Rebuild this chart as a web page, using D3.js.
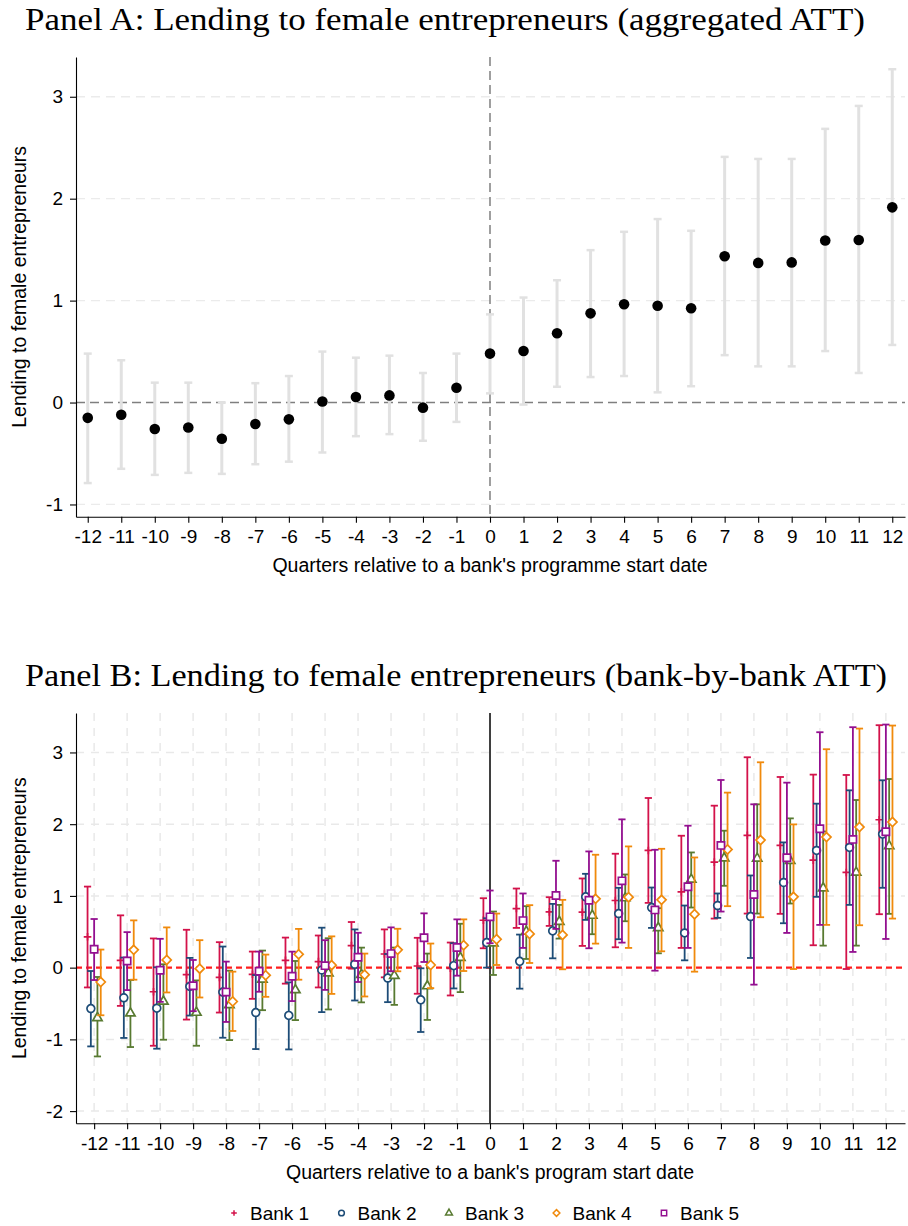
<!DOCTYPE html>
<html>
<head>
<meta charset="utf-8">
<script src="https://cdn.jsdelivr.net/npm/d3@7"></script>
<style>
body { margin: 0; background: #fff; }
</style>
</head>
<body>
<svg id="chart" width="908" height="1226"></svg>
<script>
// quarters relative to programme start
var quarters = [-12, -11, -10, -9, -8, -7, -6, -5, -4, -3, -2, -1, 0, 1, 2, 3, 4, 5, 6, 7, 8, 9, 10, 11, 12];

// Panel A: aggregated ATT
var attEst = [-0.15, -0.12, -0.26, -0.245, -0.355, -0.21, -0.165, 0.01, 0.055, 0.07, -0.05, 0.145, 0.48, 0.505, 0.68, 0.875, 0.965, 0.95, 0.925, 1.435, 1.37, 1.375, 1.59, 1.595, 1.915];
var attLo = [-0.79, -0.65, -0.71, -0.69, -0.70, -0.605, -0.58, -0.49, -0.33, -0.31, -0.375, -0.19, 0.09, -0.02, 0.155, 0.25, 0.26, 0.10, 0.16, 0.465, 0.355, 0.355, 0.505, 0.29, 0.565];
var attHi = [0.48, 0.415, 0.195, 0.195, 0.0, 0.19, 0.26, 0.50, 0.44, 0.46, 0.29, 0.48, 0.865, 1.03, 1.20, 1.495, 1.675, 1.80, 1.685, 2.41, 2.39, 2.39, 2.685, 2.91, 3.27];

// Panel B: bank-by-bank ATT
var bank1Est = [0.43, 0.10, -0.336, -0.098, -0.136, -0.093, 0.102, 0.084, 0.308, 0.19, 0.023, -0.009, 0.661, 0.824, 0.777, 0.773, 0.936, 1.634, 1.057, 1.471, 1.844, 1.704, 1.499, 1.327, 2.062];
var bank1Lo = [-0.276, -0.533, -1.089, -0.724, -0.626, -0.435, -0.223, -0.276, -0.014, -0.135, -0.364, -0.388, 0.27, 0.554, 0.582, 0.303, 0.284, 0.903, 0.275, 0.684, 0.754, 0.75, 0.312, -0.019, 0.745];
var bank1Hi = [1.13, 0.729, 0.407, 0.528, 0.355, 0.224, 0.419, 0.448, 0.636, 0.533, 0.416, 0.35, 0.968, 1.103, 0.982, 1.243, 1.588, 2.365, 1.839, 2.258, 2.933, 2.658, 2.691, 2.686, 3.38];

var bank2Est = [-0.57, -0.42, -0.565, -0.262, -0.341, -0.626, -0.666, -0.033, 0.047, -0.145, -0.449, 0.028, 0.349, 0.088, 0.512, 0.987, 0.754, 0.838, 0.484, 0.866, 0.712, 1.187, 1.634, 1.676, 1.862];
var bank2Lo = [-1.098, -0.98, -1.13, -0.668, -0.977, -1.135, -1.14, -0.62, -0.458, -0.481, -0.897, -0.29, 0.0, -0.293, 0.13, 0.666, 0.396, 0.554, 0.102, 0.694, 0.135, 0.619, 0.987, 0.875, 1.113];
var bank2Hi = [-0.047, 0.14, 0.005, 0.136, 0.294, -0.103, -0.205, 0.557, 0.533, 0.19, -0.009, 0.341, 0.689, 0.461, 0.889, 1.308, 1.113, 1.117, 0.866, 1.034, 1.285, 1.746, 2.286, 2.472, 2.612];

var bank3Est = [-0.70, -0.636, -0.47, -0.626, -0.519, -0.164, -0.312, -0.077, -0.10, -0.112, -0.257, 0.14, 0.34, 0.503, 0.642, 0.726, 0.97, 0.554, 1.229, 1.527, 1.522, 1.49, 1.108, 1.327, 1.695];
var bank3Lo = [-1.238, -1.107, -1.005, -1.089, -1.01, -0.593, -0.731, -0.583, -0.484, -0.519, -0.729, -0.341, -0.102, 0.121, 0.405, 0.466, 0.647, 0.2, 0.838, 1.141, 0.754, 0.894, 0.307, 0.307, 0.75];
var bank3Hi = [-0.13, -0.173, 0.047, -0.178, -0.042, 0.238, 0.093, 0.41, 0.279, 0.28, 0.196, 0.612, 0.782, 0.857, 0.875, 0.968, 1.299, 0.829, 1.606, 1.909, 2.277, 2.081, 1.899, 2.337, 2.63];

var bank4Est = [-0.20, 0.248, 0.107, -0.014, -0.472, -0.107, 0.186, 0.035, -0.098, 0.248, 0.037, 0.313, 0.396, 0.47, 0.456, 0.959, 0.982, 0.945, 0.745, 1.648, 1.778, 0.987, 1.82, 1.96, 2.03];
var bank4Lo = [-0.664, -0.168, -0.346, -0.416, -0.883, -0.407, -0.168, -0.366, -0.402, -0.051, -0.285, -0.047, 0.037, 0.065, -0.023, 0.335, 0.275, 0.228, -0.056, 0.857, 0.703, -0.019, 0.596, 0.591, 0.684];
var bank4Hi = [0.252, 0.659, 0.561, 0.383, -0.056, 0.182, 0.54, 0.436, 0.196, 0.542, 0.336, 0.673, 0.754, 0.871, 0.945, 1.574, 1.69, 1.657, 1.536, 2.44, 2.863, 1.997, 3.045, 3.333, 3.375];

var bank5Est = [0.257, 0.093, -0.037, -0.252, -0.341, -0.051, -0.121, 0.028, 0.145, 0.196, 0.416, 0.28, 0.708, 0.656, 1.006, 0.94, 1.21, 0.805, 1.127, 1.704, 1.02, 1.532, 1.937, 1.788, 1.895];
var bank5Lo = [-0.173, -0.313, -0.477, -0.607, -0.757, -0.336, -0.466, -0.31, -0.2, -0.05, 0.079, -0.112, 0.34, 0.275, 0.54, 0.27, 0.349, -0.042, 0.275, 0.782, -0.237, 0.484, 0.596, 0.219, 0.4];
var bank5Hi = [0.678, 0.495, 0.402, 0.107, 0.084, 0.224, 0.223, 0.383, 0.486, 0.561, 0.757, 0.673, 1.075, 1.034, 1.49, 1.62, 2.067, 1.643, 1.979, 2.616, 2.277, 2.579, 3.282, 3.352, 3.389];

var bankNames = ["Bank 1", "Bank 2", "Bank 3", "Bank 4", "Bank 5"];

var yTicksA = [-1, 0, 1, 2, 3];
var yTicksB = [-2, -1, 0, 1, 2, 3];

var sans = "'Liberation Sans', Arial, Helvetica, sans-serif";
var serif = "'Liberation Serif', 'Times New Roman', serif";

var svg = d3.select("#chart");

// plain hyphen for negatives, as in the original
function tickText(d) { return String(d); }

function styleAxis(g) {
	g.select(".domain").attr("stroke", "#000").attr("stroke-width", 1.1);
	g.selectAll(".tick line").attr("stroke", "#000").attr("stroke-width", 1.1);
	g.selectAll(".tick text").attr("font-family", sans).attr("font-size", 19).attr("fill", "#000");
}

/* ---------------- Panel A ---------------- */
var plotA = { left: 76, right: 905, top: 57, bottom: 516.7 };
var xA = d3.scaleLinear().domain([-12.35, 12.38]).range([plotA.left, plotA.right]);
var yA = d3.scaleLinear().domain([-1.12, 3.39]).range([plotA.bottom, plotA.top]);

svg.append("text")
	.attr("x", 445).attr("y", 30)
	.attr("text-anchor", "middle")
	.attr("font-family", serif).attr("font-size", 31)
	.attr("textLength", 840).attr("lengthAdjust", "spacingAndGlyphs")
	.text("Panel A: Lending to female entrepreneurs (aggregated ATT)");

var gA = svg.append("g");

gA.selectAll("line.gridA").data(yTicksA.filter(function(d) { return d != 0; }))
	.enter().append("line")
	.attr("class", "gridA")
	.attr("x1", plotA.left).attr("x2", plotA.right)
	.attr("y1", function(d) { return yA(d); })
	.attr("y2", function(d) { return yA(d); })
	.attr("stroke", "#ebebeb").attr("stroke-width", 1.3)
	.attr("stroke-dasharray", "9,6");

gA.append("line")
	.attr("x1", plotA.left).attr("x2", plotA.right)
	.attr("y1", yA(0)).attr("y2", yA(0))
	.attr("stroke", "#7f7f7f").attr("stroke-width", 1.5)
	.attr("stroke-dasharray", "9,5");
gA.append("line")
	.attr("x1", xA(0)).attr("x2", xA(0))
	.attr("y1", plotA.top).attr("y2", plotA.bottom)
	.attr("stroke", "#7f7f7f").attr("stroke-width", 1.5)
	.attr("stroke-dasharray", "9,5");

var ciA = gA.selectAll("g.ciA").data(quarters).enter().append("g").attr("class", "ciA");
ciA.append("line")
	.attr("x1", function(d) { return xA(d); })
	.attr("x2", function(d) { return xA(d); })
	.attr("y1", function(d, i) { return yA(attLo[i]); })
	.attr("y2", function(d, i) { return yA(attHi[i]); })
	.attr("stroke", "#e1e1e1").attr("stroke-width", 3);
ciA.append("line")
	.attr("x1", function(d) { return xA(d) - 4; })
	.attr("x2", function(d) { return xA(d) + 4; })
	.attr("y1", function(d, i) { return yA(attLo[i]); })
	.attr("y2", function(d, i) { return yA(attLo[i]); })
	.attr("stroke", "#e1e1e1").attr("stroke-width", 2.5);
ciA.append("line")
	.attr("x1", function(d) { return xA(d) - 4; })
	.attr("x2", function(d) { return xA(d) + 4; })
	.attr("y1", function(d, i) { return yA(attHi[i]); })
	.attr("y2", function(d, i) { return yA(attHi[i]); })
	.attr("stroke", "#e1e1e1").attr("stroke-width", 2.5);

gA.selectAll("circle.ptA").data(quarters).enter().append("circle")
	.attr("class", "ptA")
	.attr("cx", function(d) { return xA(d); })
	.attr("cy", function(d, i) { return yA(attEst[i]); })
	.attr("r", 5.3)
	.attr("fill", "#000");

gA.append("g")
	.attr("transform", "translate(" + plotA.left + ",0)")
	.call(d3.axisLeft(yA).tickValues(yTicksA).tickSize(6).tickSizeOuter(0).tickPadding(7).tickFormat(tickText))
	.call(styleAxis);
gA.append("g")
	.attr("transform", "translate(0," + plotA.bottom + ")")
	.call(d3.axisBottom(xA).tickValues(quarters).tickSize(6).tickSizeOuter(0).tickPadding(7).tickFormat(tickText))
	.call(styleAxis);

svg.append("text")
	.attr("transform", "translate(26," + ((plotA.top + plotA.bottom) / 2) + ") rotate(-90)")
	.attr("text-anchor", "middle")
	.attr("font-family", sans).attr("font-size", 19.5)
	.text("Lending to female entrepreneurs");
svg.append("text")
	.attr("x", xA(0)).attr("y", 572)
	.attr("text-anchor", "middle")
	.attr("font-family", sans).attr("font-size", 19.5)
	.text("Quarters relative to a bank's programme start date");

/* ---------------- Panel B ---------------- */
var plotB = { left: 76, right: 905, top: 713, bottom: 1123.3 };
var xB = d3.scaleLinear().domain([-12.55, 12.58]).range([plotB.left, plotB.right]);
var yB = d3.scaleLinear().domain([-2.17, 3.55]).range([plotB.bottom, plotB.top]);

svg.append("text")
	.attr("x", 456).attr("y", 686)
	.attr("text-anchor", "middle")
	.attr("font-family", serif).attr("font-size", 31)
	.attr("textLength", 862).attr("lengthAdjust", "spacingAndGlyphs")
	.text("Panel B: Lending to female entrepreneurs (bank-by-bank ATT)");

var gB = svg.append("g");

gB.selectAll("line.gridBy").data(yTicksB.filter(function(d) { return d != 0; }))
	.enter().append("line")
	.attr("class", "gridBy")
	.attr("x1", plotB.left).attr("x2", plotB.right)
	.attr("y1", function(d) { return yB(d); })
	.attr("y2", function(d) { return yB(d); })
	.attr("stroke", "#e9e9e9").attr("stroke-width", 1.5)
	.attr("stroke-dasharray", "8,7");
gB.selectAll("line.gridBx").data(quarters.filter(function(d) { return d != 0; }))
	.enter().append("line")
	.attr("class", "gridBx")
	.attr("x1", function(d) { return xB(d); })
	.attr("x2", function(d) { return xB(d); })
	.attr("y1", plotB.top).attr("y2", plotB.bottom)
	.attr("stroke", "#e9e9e9").attr("stroke-width", 1.5)
	.attr("stroke-dasharray", "8,7");

gB.append("line")
	.attr("x1", plotB.left).attr("x2", plotB.right)
	.attr("y1", yB(0)).attr("y2", yB(0))
	.attr("stroke", "#ff1f1f").attr("stroke-width", 2.4)
	.attr("stroke-dasharray", "6,4");
gB.append("line")
	.attr("x1", xB(0)).attr("x2", xB(0))
	.attr("y1", plotB.top).attr("y2", plotB.bottom)
	.attr("stroke", "#000").attr("stroke-width", 1.5);

var banks = [
	{ name: bankNames[0], est: bank1Est, lo: bank1Lo, hi: bank1Hi, color: "#d3124a", shift: -0.2, symbol: "plus" },
	{ name: bankNames[1], est: bank2Est, lo: bank2Lo, hi: bank2Hi, color: "#1d4c77", shift: -0.1, symbol: "circle" },
	{ name: bankNames[2], est: bank3Est, lo: bank3Lo, hi: bank3Hi, color: "#587a31", shift: 0.1, symbol: "triangle" },
	{ name: bankNames[3], est: bank4Est, lo: bank4Lo, hi: bank4Hi, color: "#f08a0c", shift: 0.2, symbol: "diamond" },
	{ name: bankNames[4], est: bank5Est, lo: bank5Lo, hi: bank5Hi, color: "#930f90", shift: 0, symbol: "square" }
];

function markerPath(type, s) {
	if (type == "plus") return "M" + (-s) + ",0H" + s + "M0," + (-s) + "V" + s;
	if (type == "circle") return d3.symbol(d3.symbolCircle, s * s * 3.3)();
	if (type == "triangle") return d3.symbol(d3.symbolTriangle, s * s * 2.6)();
	if (type == "diamond") {
		var r = s * 1.2;
		return "M0," + (-r) + "L" + r + ",0L0," + r + "L" + (-r) + ",0Z";
	}
	return d3.symbol(d3.symbolSquare, s * s * 3.6)();
}

banks.forEach(function(b) {
	var g = gB.append("g");
	var bars = g.selectAll("g.bar").data(quarters).enter().append("g").attr("class", "bar");
	bars.append("line")
		.attr("x1", function(d) { return xB(d + b.shift); })
		.attr("x2", function(d) { return xB(d + b.shift); })
		.attr("y1", function(d, i) { return yB(b.lo[i]); })
		.attr("y2", function(d, i) { return yB(b.hi[i]); })
		.attr("stroke", b.color).attr("stroke-width", 1.8);
	bars.append("line")
		.attr("x1", function(d) { return xB(d + b.shift) - 3.6; })
		.attr("x2", function(d) { return xB(d + b.shift) + 3.6; })
		.attr("y1", function(d, i) { return yB(b.lo[i]); })
		.attr("y2", function(d, i) { return yB(b.lo[i]); })
		.attr("stroke", b.color).attr("stroke-width", 1.8);
	bars.append("line")
		.attr("x1", function(d) { return xB(d + b.shift) - 3.6; })
		.attr("x2", function(d) { return xB(d + b.shift) + 3.6; })
		.attr("y1", function(d, i) { return yB(b.hi[i]); })
		.attr("y2", function(d, i) { return yB(b.hi[i]); })
		.attr("stroke", b.color).attr("stroke-width", 1.8);
	g.selectAll("path.mk").data(quarters).enter().append("path")
		.attr("class", "mk")
		.attr("transform", function(d, i) { return "translate(" + xB(d + b.shift) + "," + yB(b.est[i]) + ")"; })
		.attr("d", markerPath(b.symbol, 3.8))
		.attr("fill", b.symbol == "plus" ? "none" : "#fff")
		.attr("stroke", b.color).attr("stroke-width", 1.7);
});

gB.append("g")
	.attr("transform", "translate(" + plotB.left + ",0)")
	.call(d3.axisLeft(yB).tickValues(yTicksB).tickSize(6).tickSizeOuter(0).tickPadding(7).tickFormat(tickText))
	.call(styleAxis);
gB.append("g")
	.attr("transform", "translate(0," + plotB.bottom + ")")
	.call(d3.axisBottom(xB).tickValues(quarters).tickSize(6).tickSizeOuter(0).tickPadding(7).tickFormat(tickText))
	.call(styleAxis);

svg.append("text")
	.attr("transform", "translate(26," + ((plotB.top + plotB.bottom) / 2) + ") rotate(-90)")
	.attr("text-anchor", "middle")
	.attr("font-family", sans).attr("font-size", 19.5)
	.text("Lending to female entrepreneurs");
svg.append("text")
	.attr("x", xB(0)).attr("y", 1179)
	.attr("text-anchor", "middle")
	.attr("font-family", sans).attr("font-size", 19.5)
	.text("Quarters relative to a bank's program start date");

// legend
var legend = svg.append("g").attr("transform", "translate(234,1213)");
var item = legend.selectAll("g.item").data(banks).enter().append("g")
	.attr("class", "item")
	.attr("transform", function(d, i) { return "translate(" + (i * 107.5) + ",0)"; });
item.append("path")
	.attr("d", function(d) { return markerPath(d.symbol, 2.8); })
	.attr("fill", function(d) { return d.symbol == "plus" ? "none" : "#fff"; })
	.attr("stroke", function(d) { return d.color; })
	.attr("stroke-width", 1.5);
item.append("text")
	.attr("x", 16).attr("dy", "0.36em")
	.attr("font-family", sans).attr("font-size", 19)
	.text(function(d) { return d.name; });
</script>
</body>
</html>
